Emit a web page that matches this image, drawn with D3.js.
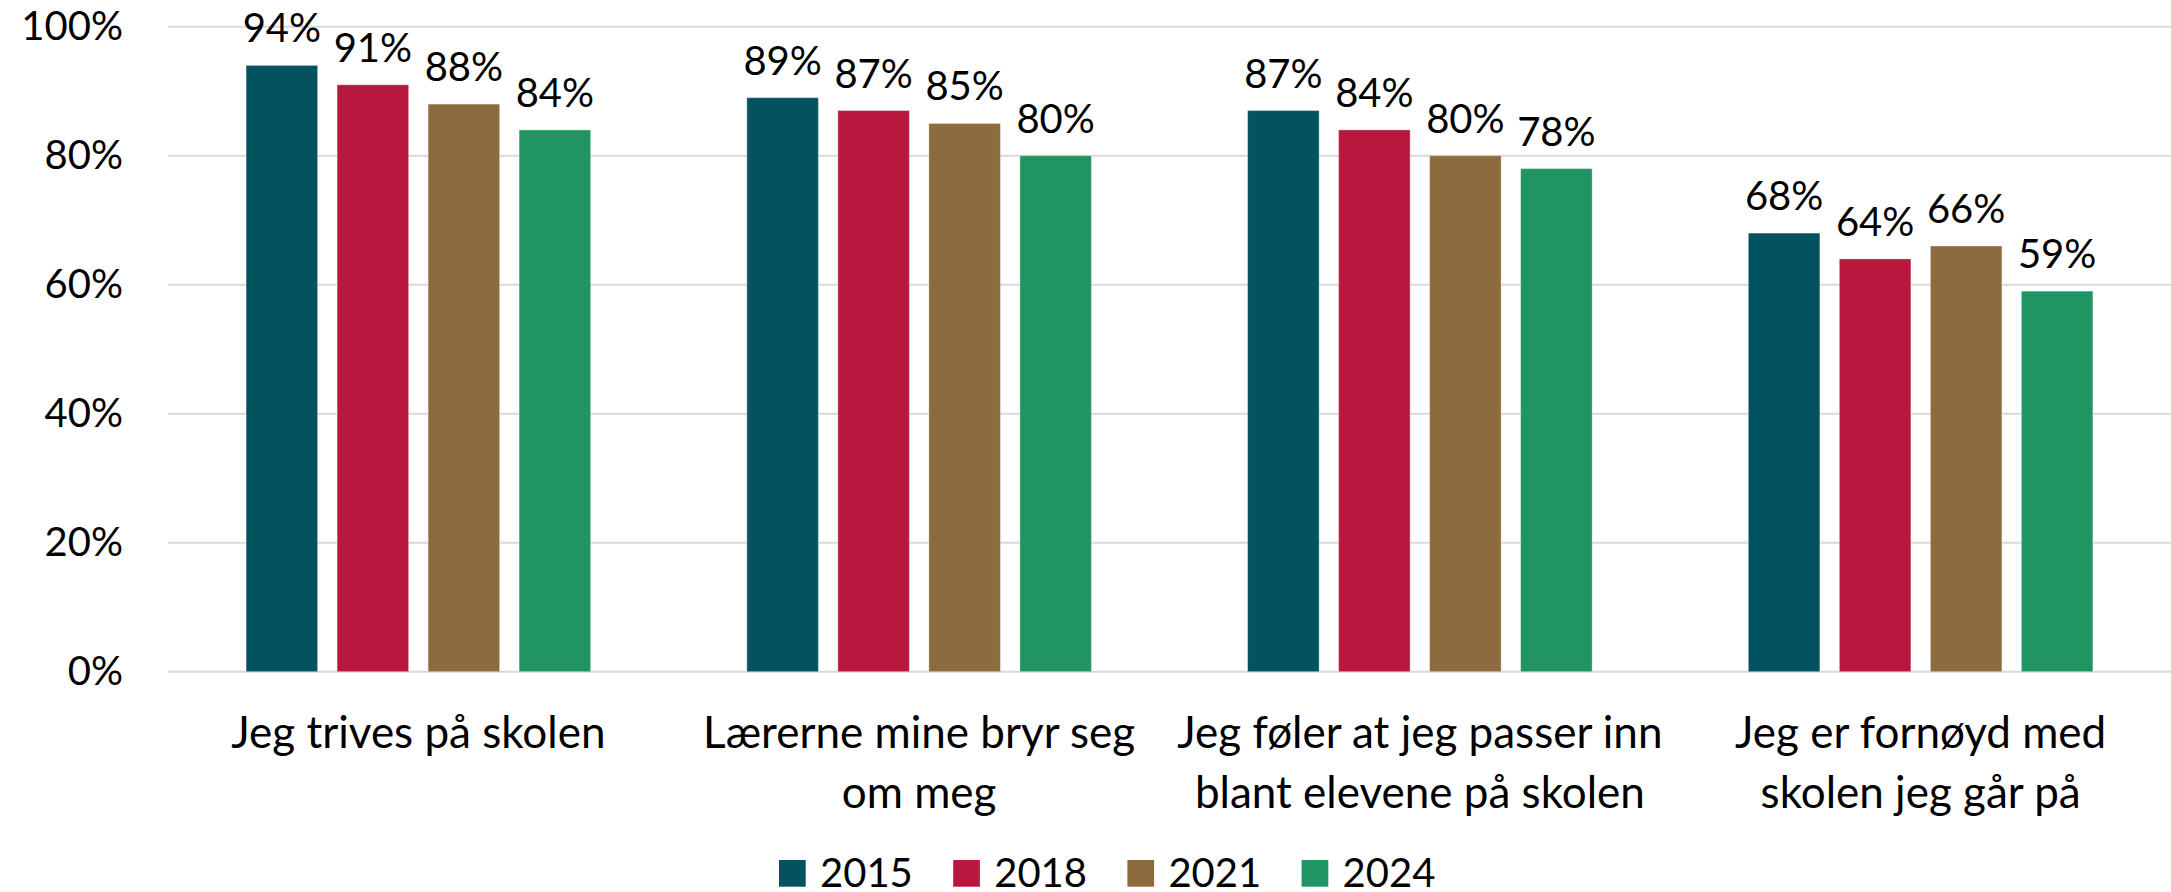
<!DOCTYPE html>
<html>
<head>
<meta charset="utf-8">
<script src="https://cdn.jsdelivr.net/npm/d3@7"></script>
<style>
  body { margin: 0; background: #fff; }
  svg { display: block; font-family: Lato, "Open Sans", sans-serif; }
</style>
</head>
<body>
<svg width="2171" height="892"></svg>
<script>
// data
var categories = [
  "Jeg trives på skolen",
  "Lærerne mine bryr seg\nom meg",
  "Jeg føler at jeg passer inn\nblant elevene på skolen",
  "Jeg er fornøyd med\nskolen jeg går på"
];
var years = ["2015", "2018", "2021", "2024"];
var values2015 = [94, 89, 87, 68];
var values2018 = [91, 87, 84, 64];
var values2021 = [88, 85, 80, 66];
var values2024 = [84, 80, 78, 59];
var yTicks = [0, 20, 40, 60, 80, 100];
var colors = ["#02535f", "#b8183d", "#8c6c3e", "#209563"];

var series = [values2015, values2018, values2021, values2024];

var svg = d3.select("svg"),
    width = +svg.attr("width"),
    height = +svg.attr("height");

var margin = {left: 168, right: 0, top: 26.7, bottom: 220.3};

var x0 = d3.scaleBand()
    .domain(categories)
    .range([margin.left, width - margin.right]);

var x1 = d3.scaleBand()
    .domain(years)
    .range([0, x0.bandwidth()])
    .paddingInner(0.214)
    .paddingOuter(0.858);

var y = d3.scaleLinear()
    .domain([0, 100])
    .range([height - margin.bottom, margin.top]);

var color = d3.scaleOrdinal().domain(years).range(colors);

// gridlines
svg.append("g")
  .selectAll("line")
  .data(yTicks)
  .enter().append("line")
    .attr("x1", margin.left)
    .attr("x2", width - margin.right)
    .attr("y1", function(d) { return y(d); })
    .attr("y2", function(d) { return y(d); })
    .style("stroke", "#d9d9d9")
    .style("stroke-width", 2);

// y axis labels
var yAxis = d3.axisLeft(y)
    .tickValues(yTicks)
    .tickSize(0)
    .tickPadding(0)
    .tickFormat(function(d) { return d + "%"; });

svg.append("g")
    .attr("transform", "translate(123,0)")
    .call(yAxis)
    .call(function(g) { g.select(".domain").remove(); })
    .selectAll("text")
    .style("font-family", "Lato, sans-serif")
    .style("font-size", "40px")
    .style("fill", "#000");

// bars
var rows = [];
categories.forEach(function(c, i) {
  years.forEach(function(yr, j) {
    rows.push({cat: c, year: yr, value: series[j][i]});
  });
});

var bars = svg.append("g")
  .selectAll("g")
  .data(rows)
  .enter().append("g")
    .attr("transform", function(d) { return "translate(" + (x0(d.cat) + x1(d.year)) + ",0)"; });

bars.append("rect")
    .attr("x", 0)
    .attr("y", function(d) { return y(d.value); })
    .attr("width", x1.bandwidth())
    .attr("height", function(d) { return y(0) - y(d.value); })
    .style("fill", function(d) { return color(d.year); })
    .style("stroke", "#ffffff")
    .style("stroke-opacity", 0.35)
    .style("stroke-width", 1);

bars.append("text")
    .attr("x", x1.bandwidth() / 2)
    .attr("y", function(d) { return y(d.value) - 23; })
    .attr("text-anchor", "middle")
    .style("font-size", "40px")
    .style("fill", "#000")
    .text(function(d) { return d.value + "%"; });

// category labels
var catLabels = svg.append("g")
  .selectAll("text")
  .data(categories)
  .enter().append("text")
    .attr("text-anchor", "middle")
    .attr("transform", function(d) { return "translate(" + (x0(d) + x0.bandwidth() / 2) + ",748)"; })
    .style("font-size", "44px")
    .style("fill", "#000");

catLabels.selectAll("tspan")
  .data(function(d) { return d.split("\n"); })
  .enter().append("tspan")
    .attr("x", 0)
    .attr("y", function(d, i) { return i * 60; })
    .text(function(d) { return d; });

// legend
var legend = svg.append("g")
  .selectAll("g")
  .data(years)
  .enter().append("g")
    .attr("transform", function(d, i) { return "translate(" + (779 + i * 174.2) + ",860)"; });

legend.append("rect")
    .attr("width", 26.7)
    .attr("height", 26.7)
    .style("fill", function(d) { return color(d); });

legend.append("text")
    .attr("x", 41)
    .attr("y", 26.5)
    .style("font-size", "40px")
    .style("fill", "#000")
    .text(function(d) { return d; });
</script>
</body>
</html>
